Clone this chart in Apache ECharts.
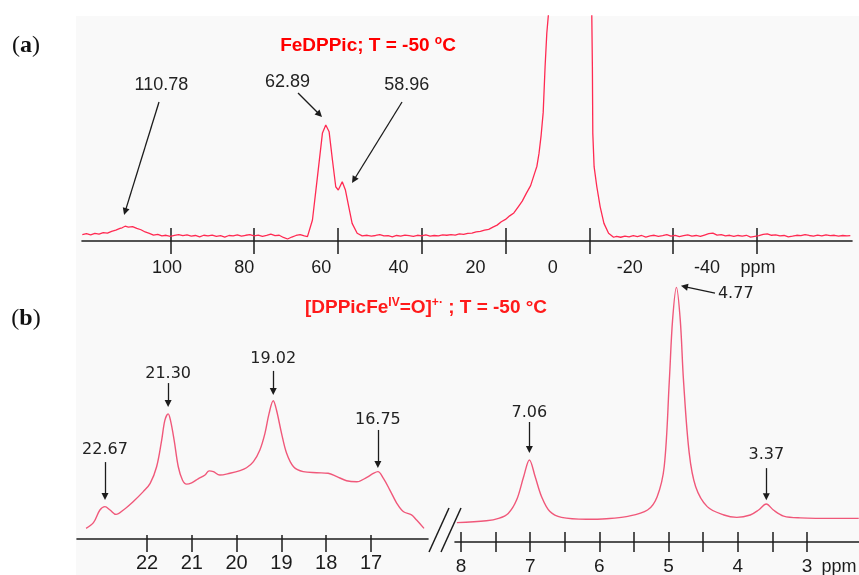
<!DOCTYPE html>
<html>
<head>
<meta charset="utf-8">
<script src="https://cdn.jsdelivr.net/npm/echarts@6/dist/echarts.min.js"></script>
<style>
html, body { margin: 0; padding: 0; background: #fff; }
#chart { width: 859px; height: 575px; }
</style>
</head>
<body>
<div id="chart"></div>
<script>
// ---------- (a) FeDPPic, T = -50 °C : full sweep (ppm, intensity a.u.) ----------
const ticksA = [100, 80, 60, 40, 20, 0, -20, -40];
const peaksA = [110.78, 62.89, 58.96];
const spectrumA = [
  [121.0, 0.9], [120.0, 1.3], [119.0, 0.8], [118.0, 1.5], [117.0, 1.1], [116.0, 1.8], [115.0, 1.6],
  [114.0, 2.4], [113.0, 2.9], [112.0, 3.7], [111.5, 4.0], [110.78, 4.7], [110.0, 4.3], [109.0, 4.5],
  [108.0, 3.7], [107.0, 3.1], [106.0, 2.1], [105.0, 1.5], [104.0, 0.7], [103.0, 1.0], [102.0, 0.3],
  [101.0, 0.6], [100.0, 0.1], [99.0, 0.5], [98.0, 0.9], [97.0, 0.4], [96.0, 0.8], [95.0, 0.2],
  [94.0, 0.5], [93.0, -0.1], [92.0, 0.6], [91.0, 0.3], [90.0, 0.7], [89.0, 0.1], [88.0, 0.4],
  [87.0, -0.2], [86.0, 0.5], [85.0, 0.3], [84.0, 0.8], [83.0, 0.2], [82.0, 0.6], [81.0, 0.9],
  [80.0, 0.3], [79.0, 0.7], [78.0, 0.1], [77.0, 0.5], [76.0, 1.1], [75.0, 0.4], [74.0, 0.6],
  [73.0, -0.4], [72.0, -1.1], [71.0, -0.2], [70.0, 0.5], [69.0, 0.9], [68.0, 0.3], [67.26, 0.0],
  [66.07, 7.5], [64.88, 27.1], [63.68, 47.0], [62.89, 50.6], [62.09, 47.5], [61.30, 34.7],
  [60.51, 22.6], [59.90, 21.1], [58.96, 24.9], [58.20, 21.1], [57.40, 13.5], [56.60, 6.0],
  [55.40, 1.5], [54.20, 0.3], [53.0, 0.6], [52.0, 0.2], [51.0, 0.5], [50.0, 0.9], [49.0, 0.3],
  [48.0, 0.4], [47.0, -0.1], [46.0, 0.5], [45.0, 0.2], [44.0, 0.7], [43.0, 0.4], [42.0, 0.1],
  [41.0, 0.6], [40.0, 0.3], [39.0, 0.8], [38.0, 0.2], [37.0, 0.5], [36.0, 0.3], [35.0, 0.8],
  [34.0, 0.6], [33.0, 0.9], [32.0, 0.7], [31.0, 1.2], [30.0, 1.0], [29.0, 1.5], [28.0, 1.6],
  [27.0, 2.1], [26.0, 2.4], [25.0, 2.9], [24.0, 3.3], [23.0, 4.3], [22.0, 5.2], [21.0, 6.7],
  [20.0, 7.8], [19.0, 9.4], [18.0, 10.7], [17.0, 13.4], [16.0, 16.1], [15.0, 19.7], [14.0, 23.1],
  [13.0, 29.0], [12.5, 31.9], [12.0, 37.7], [11.5, 45.8], [11.0, 56.3], [10.55, 77.0],
  [10.14, 92.2], [9.76, 100.5], [9.3, 118.0], [7.0, 160.0], [1.0, 160.0], [-0.45, 118.0],
  [-0.6, 100.0], [-0.74, 77.0], [-0.84, 46.8], [-1.15, 31.7], [-1.8, 22.6], [-2.6, 13.5],
  [-3.5, 6.0], [-4.6, 1.5], [-5.8, -0.3], [-6.5, 0.1], [-7.5, -0.3], [-8.5, 0.2], [-9.5, -0.1],
  [-10.5, 0.4], [-11.5, 0.0], [-12.5, 0.5], [-13.5, -0.2], [-14.5, 0.3], [-15.5, 0.6], [-16.5, 0.1],
  [-17.5, 0.4], [-18.5, 0.9], [-19.5, 0.2], [-20.5, 0.6], [-21.5, 0.0], [-22.5, 0.4], [-23.5, 0.8],
  [-24.5, 0.2], [-25.5, 0.5], [-26.5, 0.1], [-27.5, 0.7], [-28.5, 1.3], [-29.5, 1.6], [-30.5, 0.7],
  [-31.5, 0.9], [-32.5, 0.3], [-33.5, 0.6], [-34.5, 0.1], [-35.5, 0.5], [-36.5, 0.2], [-37.5, 0.6],
  [-38.5, -0.2], [-39.5, 0.1], [-40.5, 0.4], [-41.5, 1.0], [-42.5, 1.2], [-43.5, 0.6], [-44.5, 0.8],
  [-45.5, 0.3], [-46.5, 0.5], [-47.5, -0.1], [-48.5, 0.2], [-49.5, 0.6], [-50.5, 0.4], [-51.5, 0.9],
  [-52.5, 0.5], [-53.5, 0.2], [-54.5, 0.7], [-55.5, 0.3], [-56.5, 0.8], [-57.5, 0.4], [-58.5, 0.6],
  [-59.5, 0.2], [-60.5, 0.5], [-61.5, 0.3], [-62.3, 0.4]
];

// ---------- (b) [DPPicFe(IV)=O]+· , T = -50 °C : two windows ----------
const ticksBLeft = [22, 21, 20, 19, 18, 17];
const ticksBRight = [8, 7.5, 7, 6.5, 6, 5.5, 5, 4.5, 4, 3.5, 3];
const labelsBRight = [8, 7, 6, 5, 4, 3];
const peaksBLeft = [22.67, 21.30, 19.02, 16.75];
const peaksBRight = [7.06, 4.77, 3.37];
const spectrumBLeft = [
  [23.08, 4.1], [22.92, 6.3], [22.78, 11.2], [22.67, 12.5], [22.56, 11.2], [22.43, 9.5],
  [22.27, 11.2], [22.06, 14.4], [21.84, 18.3], [21.69, 21.5], [21.55, 27.9], [21.44, 38.2],
  [21.37, 45.9], [21.30, 48.3], [21.25, 45.9], [21.17, 38.2], [21.08, 27.9], [20.99, 22.8],
  [20.90, 21.2], [20.79, 21.7], [20.65, 23.2], [20.50, 24.7], [20.41, 26.3], [20.32, 26.0],
  [20.18, 24.7], [19.96, 25.4], [19.74, 26.4], [19.60, 27.5], [19.45, 29.9], [19.31, 34.4],
  [19.20, 40.8], [19.11, 48.5], [19.02, 53.4], [18.95, 49.8], [18.84, 40.8], [18.73, 33.1],
  [18.58, 27.9], [18.37, 26.0], [18.08, 25.6], [17.83, 25.4], [17.64, 24.1], [17.43, 22.5],
  [17.21, 22.1], [16.99, 23.8], [16.85, 25.3], [16.75, 26.0], [16.63, 23.4], [16.49, 18.9],
  [16.34, 13.8], [16.20, 10.6], [16.02, 9.3], [15.91, 7.3], [15.75, 4.1]
];
const spectrumBRight = [
  [8.19, 7.4], [7.73, 8.1], [7.54, 9.0], [7.39, 10.9], [7.26, 16.0], [7.15, 24.9], [7.06, 31.3],
  [6.97, 24.9], [6.87, 17.3], [6.74, 11.6], [6.56, 9.4], [6.17, 8.7], [5.86, 8.9], [5.55, 9.7],
  [5.22, 12.2], [5.07, 17.3], [4.96, 28.8], [4.88, 61.8], [4.83, 84.7], [4.77, 97.2], [4.71, 84.7],
  [4.66, 61.8], [4.57, 33.8], [4.47, 21.1], [4.29, 13.5], [4.03, 10.3], [3.83, 9.4], [3.62, 10.3],
  [3.49, 12.2], [3.37, 14.5], [3.26, 12.2], [3.10, 9.9], [2.84, 9.2], [2.27, 9.0], [1.93, 9.0]
];

// ---------- styles ----------
const INK = '#1c1c1c';
const SANS = 'Liberation Sans, Arial, sans-serif';
const axisLineStyle = { color: INK, width: 1.6 };
const tickLineStyle = { color: INK, width: 1.5 };

// arrow from a label anchor [ppm, y] to a tip [ppm, y]; the label sits at the tail
function arrow(value, from, to, distance) {
  return [
    { coord: from, label: { formatter: value.toFixed(2), distance: distance } },
    { coord: to }
  ];
}

function markLines(items, font) {
  return {
    silent: true,
    animation: false,
    symbol: ['none', 'triangle'],
    symbolSize: 7,
    lineStyle: { color: INK, width: 1.3, type: 'solid' },
    label: { show: true, position: 'start', color: '#222', fontFamily: font.family, fontSize: font.size },
    emphasis: { disabled: true },
    data: items
  };
}

function hiddenAxisParts() {
  return { splitLine: { show: false } };
}

const chart = echarts.init(document.getElementById('chart'), null, { renderer: 'canvas' });

const panelTag = (letter) => ({
  text: '{p|(}{b|' + letter + '}{p|)}', align: 'center', verticalAlign: 'middle', fill: '#111',
  rich: {
    p: { fontFamily: 'Liberation Serif, serif', fontSize: 24, fill: '#111' },
    b: { fontFamily: 'Liberation Serif, serif', fontSize: 24, fontWeight: 'bold', fill: '#111' }
  }
});

const option = {
  animation: false,
  backgroundColor: '#ffffff',
  grid: [
    { left: 82, width: 770, top: 16, height: 225, outerBoundsMode: 'none' },
    { left: 77, width: 351, top: 280, height: 259, outerBoundsMode: 'none' },
    { left: 455, width: 404, top: 280, height: 262, outerBoundsMode: 'none' }
  ],
  xAxis: [
    // (a) data scale with axis line
    Object.assign(hiddenAxisParts(), {
      gridIndex: 0, type: 'value', position: 'bottom', inverse: true, min: -62.7, max: 121.07,
      axisLine: { show: true, onZero: false, lineStyle: axisLineStyle },
      axisTick: { show: false }, axisLabel: { show: false }
    }),
    // (a) ticks crossing the axis line
    Object.assign(hiddenAxisParts(), {
      gridIndex: 0, type: 'value', position: 'bottom', inverse: true, min: -62.7, max: 121.07, offset: -13,
      axisLine: { show: false, onZero: false },
      axisTick: { show: true, inside: false, length: 26, customValues: ticksA, lineStyle: tickLineStyle },
      axisLabel: { show: false }
    }),
    // (a) tick labels
    Object.assign(hiddenAxisParts(), {
      gridIndex: 0, type: 'value', position: 'bottom', inverse: true, min: -77.6, max: 122.06,
      axisLine: { show: false, onZero: false }, axisTick: { show: false },
      axisLabel: { show: true, customValues: ticksA, margin: 18, color: INK, fontFamily: SANS, fontSize: 18 }
    }),
    // (b) left window data scale
    Object.assign(hiddenAxisParts(), {
      gridIndex: 1, type: 'value', position: 'bottom', inverse: true, min: 15.663, max: 23.277,
      axisLine: { show: true, onZero: false, lineStyle: axisLineStyle },
      axisTick: { show: false }, axisLabel: { show: false }
    }),
    // (b) left window ticks and labels
    Object.assign(hiddenAxisParts(), {
      gridIndex: 1, type: 'value', position: 'bottom', inverse: true, min: 15.728, max: 23.5625, offset: -4,
      axisLine: { show: false, onZero: false },
      axisTick: { show: true, inside: false, length: 17, customValues: ticksBLeft, lineStyle: tickLineStyle },
      axisLabel: { show: true, customValues: ticksBLeft, margin: 18, color: INK, fontFamily: SANS, fontSize: 20 }
    }),
    // (b) right window data scale
    Object.assign(hiddenAxisParts(), {
      gridIndex: 2, type: 'value', position: 'bottom', inverse: true, min: 1.926, max: 8.219,
      axisLine: { show: true, onZero: false, lineStyle: axisLineStyle },
      axisTick: { show: false }, axisLabel: { show: false }
    }),
    // (b) right window ticks and labels
    Object.assign(hiddenAxisParts(), {
      gridIndex: 2, type: 'value', position: 'bottom', inverse: true, min: 2.2486, max: 8.0867, offset: -10,
      axisLine: { show: false, onZero: false },
      axisTick: { show: true, inside: false, length: 20, customValues: ticksBRight, lineStyle: tickLineStyle },
      axisLabel: { show: true, customValues: labelsBRight, margin: 25, color: INK, fontFamily: SANS, fontSize: 19 }
    })
  ],
  yAxis: [
    { gridIndex: 0, type: 'value', min: -2, max: 100, show: false },
    { gridIndex: 1, type: 'value', min: 0, max: 100, show: false },
    { gridIndex: 2, type: 'value', min: 0, max: 100, show: false }
  ],
  series: [
    {
      type: 'line', xAxisIndex: 0, yAxisIndex: 0, data: spectrumA,
      showSymbol: false, symbol: 'none', silent: true, clip: true,
      lineStyle: { color: '#ff2a52', width: 1.3 },
      markLine: markLines([
        arrow(peaksA[0], [102.69, 61.0], [peaksA[0], 11.3], 8),
        arrow(peaksA[1], [69.51, 65.09], [64.38, 55.35], 15),
        arrow(peaksA[2], [44.69, 61.0], [56.19, 25.65], 9)
      ], { family: SANS, size: 18 })
    },
    {
      type: 'line', xAxisIndex: 3, yAxisIndex: 1, data: spectrumBLeft,
      showSymbol: false, symbol: 'none', silent: true, smooth: 0.35,
      lineStyle: { color: '#f0587a', width: 1.4 },
      markLine: markLines([
        arrow(peaksBLeft[0], [peaksBLeft[0], 29.7], [peaksBLeft[0], 16.45], 4),
        arrow(peaksBLeft[1], [peaksBLeft[1], 60.2], [peaksBLeft[1], 52.35], 1),
        arrow(peaksBLeft[2], [peaksBLeft[2], 64.9], [peaksBLeft[2], 56.95], 4),
        arrow(peaksBLeft[3], [peaksBLeft[3], 42.1], [peaksBLeft[3], 28.75], 2)
      ], { family: 'DejaVu Sans, sans-serif', size: 16 })
    },
    {
      type: 'line', xAxisIndex: 5, yAxisIndex: 2, data: spectrumBRight,
      showSymbol: false, symbol: 'none', silent: true, smooth: 0.35,
      lineStyle: { color: '#f0587a', width: 1.4 },
      markLine: markLines([
        arrow(peaksBRight[0], [peaksBRight[0], 45.8], [peaksBRight[0], 35.3], 1.5),
        arrow(peaksBRight[1], [4.169, 95.0], [4.646, 97.5], 3),
        arrow(peaksBRight[2], [peaksBRight[2], 28.2], [peaksBRight[2], 17.3], 5)
      ], { family: 'DejaVu Sans, sans-serif', size: 16 })
    }
  ],
  graphic: [
    { type: 'rect', z: -10, silent: true, shape: { x: 76, y: 16, width: 783, height: 559 }, style: { fill: '#f9f9f9' } },
    { type: 'text', x: 26, y: 46, z: 10, style: panelTag('a') },
    { type: 'text', x: 26, y: 319, z: 10, style: panelTag('b') },
    {
      type: 'text', x: 368, y: 46, z: 10,
      style: {
        text: '{t|FeDPPic; T = -50 }{s|o}{t|C}', align: 'center', verticalAlign: 'middle', fill: '#ff0000',
        rich: {
          t: { fontFamily: SANS, fontSize: 19, fontWeight: 'bold', fill: '#ff0000', lineHeight: 22 },
          s: { fontFamily: SANS, fontSize: 12, fontWeight: 'bold', fill: '#ff0000', verticalAlign: 'top', lineHeight: 14 }
        }
      }
    },
    {
      type: 'text', x: 426, y: 308, z: 10,
      style: {
        text: '{t|[DPPicFe}{s|IV}{t|=O]}{s|+·}{t| ; T = -50 °C}', align: 'center', verticalAlign: 'middle', fill: '#ff1a1a',
        rich: {
          t: { fontFamily: SANS, fontSize: 19, fontWeight: 'bold', fill: '#ff1a1a', lineHeight: 22 },
          s: { fontFamily: SANS, fontSize: 12, fontWeight: 'bold', fill: '#ff1a1a', verticalAlign: 'top', lineHeight: 14 }
        }
      }
    },
    {
      type: 'text', x: 758, y: 268, z: 10,
      style: { text: 'ppm', align: 'center', verticalAlign: 'middle', fill: INK, fontFamily: SANS, fontSize: 18 }
    },
    {
      type: 'text', x: 839, y: 567, z: 10,
      style: { text: 'ppm', align: 'center', verticalAlign: 'middle', fill: INK, fontFamily: SANS, fontSize: 18 }
    },
    // axis break marks between the two windows of (b)
    { type: 'line', z: 10, silent: true, shape: { x1: 429, y1: 552, x2: 449, y2: 508 }, style: { stroke: INK, lineWidth: 1.5 } },
    { type: 'line', z: 10, silent: true, shape: { x1: 441, y1: 552, x2: 461, y2: 508 }, style: { stroke: INK, lineWidth: 1.5 } }
  ]
};

chart.setOption(option);
</script>
</body>
</html>
